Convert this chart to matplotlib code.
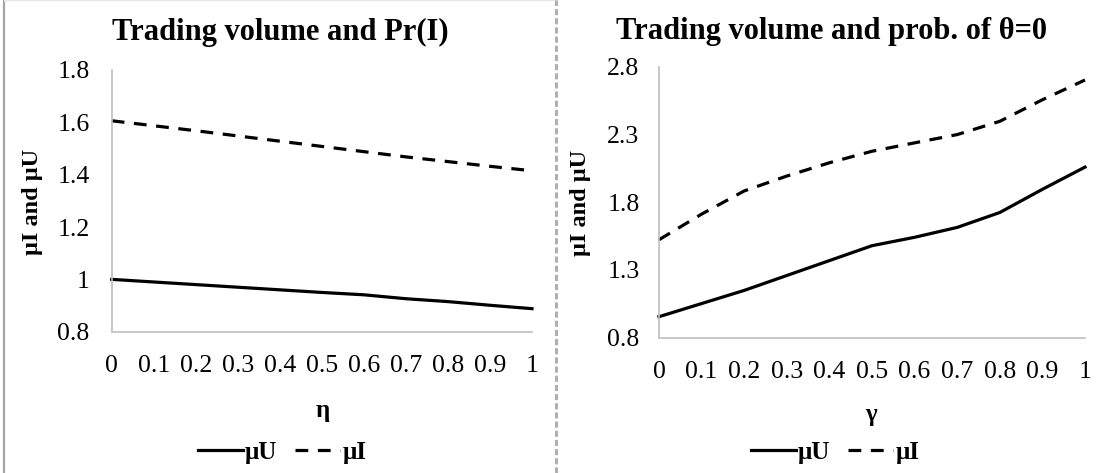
import numpy as np
import matplotlib
matplotlib.use("Agg")
import matplotlib.pyplot as plt
from matplotlib.lines import Line2D

# data
x_vals = [0, 0.1, 0.2, 0.3, 0.4, 0.5, 0.6, 0.7, 0.8, 0.9, 1]
x_ticklabels = ["0", "0.1", "0.2", "0.3", "0.4", "0.5", "0.6", "0.7", "0.8", "0.9", "1"]

# left panel: trading volume vs eta
eta_mu_u = [1.0, 0.99, 0.98, 0.97, 0.96, 0.95, 0.941, 0.926, 0.915, 0.901, 0.888]
eta_mu_i = [1.606, 1.587, 1.568, 1.548, 1.528, 1.508, 1.488, 1.468, 1.45, 1.432, 1.415]

# right panel: trading volume vs gamma
gam_mu_u = [0.955, 1.052, 1.149, 1.259, 1.369, 1.479, 1.541, 1.614, 1.724, 1.895, 2.059]
gam_mu_i = [1.523, 1.712, 1.883, 1.993, 2.091, 2.176, 2.238, 2.299, 2.397, 2.556, 2.702]

left_yticks = [0.8, 1.0, 1.2, 1.4, 1.6, 1.8]
left_yticklabels = ["0.8", "1", "1.2", "1.4", "1.6", "1.8"]
right_yticks = [0.8, 1.3, 1.8, 2.3, 2.8]
right_yticklabels = ["0.8", "1.3", "1.8", "2.3", "2.8"]

W, H = 1098, 473
fig = plt.figure(figsize=(W / 100, H / 100), dpi=100)
serif = "Liberation Serif"


def px_axes(x0, x1, ytop, ybot):
    return fig.add_axes([x0 / W, 1 - ybot / H, (x1 - x0) / W, (ybot - ytop) / H])


def style(ax, yticks, yticklabels, ylim, xlab, xlab_pos, ylab_pos, ypad):
    ax.set_xlim(0, 1)
    ax.set_ylim(*ylim)
    ax.set_xticks(x_vals)
    ax.set_xticklabels(x_ticklabels, fontsize=18.5, family=serif)
    ax.set_yticks(yticks)
    ax.set_yticklabels(yticklabels, fontsize=18.5, family=serif)
    ax.tick_params(length=0)
    ax.tick_params(axis="x", pad=17)
    ax.tick_params(axis="y", pad=ypad)
    for s in ["top", "right"]:
        ax.spines[s].set_visible(False)
    for s in ["left", "bottom"]:
        ax.spines[s].set_color("#bfbfbf")
        ax.spines[s].set_linewidth(1.2)
    ax.set_xlabel(xlab, fontsize=18, fontweight="bold", family=serif)
    ax.xaxis.set_label_coords(*xlab_pos)
    ax.set_ylabel("μI and μU", fontsize=17.5, fontweight="bold", family=serif)
    ax.yaxis.set_label_coords(*ylab_pos)


dash = (0, (4, 3))

ax1 = px_axes(111.7, 532, 70, 331.7)
ax1.plot(x_vals, eta_mu_u, color="black", lw=2.3, label="μU", clip_on=False)
ax1.plot(x_vals, eta_mu_i, color="black", lw=2.3, ls=dash, label="μI", clip_on=False)
style(ax1, left_yticks, left_yticklabels, (0.8, 1.8), "η", (0.503, -0.257), (-0.163, 0.496), 16)

ax2 = px_axes(659, 1085, 66.7, 337.7)
ax2.plot(x_vals, gam_mu_u, color="black", lw=2.3, label="μU", clip_on=False)
ax2.plot(x_vals, gam_mu_i, color="black", lw=2.3, ls=dash, label="μI", clip_on=False)
style(ax2, right_yticks, right_yticklabels, (0.8, 2.8), "γ", (0.498, -0.241), (-0.16, 0.497), 14)

# titles
fig.text(280 / W, 1 - 32 / H, "Trading volume and Pr(I)", ha="center", va="center",
         fontsize=22, fontweight="bold", family=serif)
fig.text(832 / W, 1 - 31 / H, "Trading volume and prob. of θ=0", ha="center", va="center",
         fontsize=22, fontweight="bold", family=serif)

# legends
for ax, cx in [(ax1, 282), (ax2, 835)]:
    h, l = ax.get_legend_handles_labels()
    fig.legend(h, l, loc="center", bbox_to_anchor=(cx / W, 1 - 452 / H), ncol=2,
               frameon=False, handlelength=1.8, handletextpad=0.1, columnspacing=0.7,
               prop={"family": serif, "weight": "bold", "size": 18})

# panel borders
fig.add_artist(Line2D([4 / W, 4 / W], [0, 1], color="#a6a6a6", lw=1.6))
fig.add_artist(Line2D([4 / W, 556 / W], [1 - 0.5 / H, 1 - 0.5 / H], color="#e6e6e6", lw=1))
fig.add_artist(Line2D([556 / W, 556 / W], [0, 1], color="#b0b0b0", lw=2.2, ls=(0, (2, 1))))

fig.savefig("out.png", dpi=100)
